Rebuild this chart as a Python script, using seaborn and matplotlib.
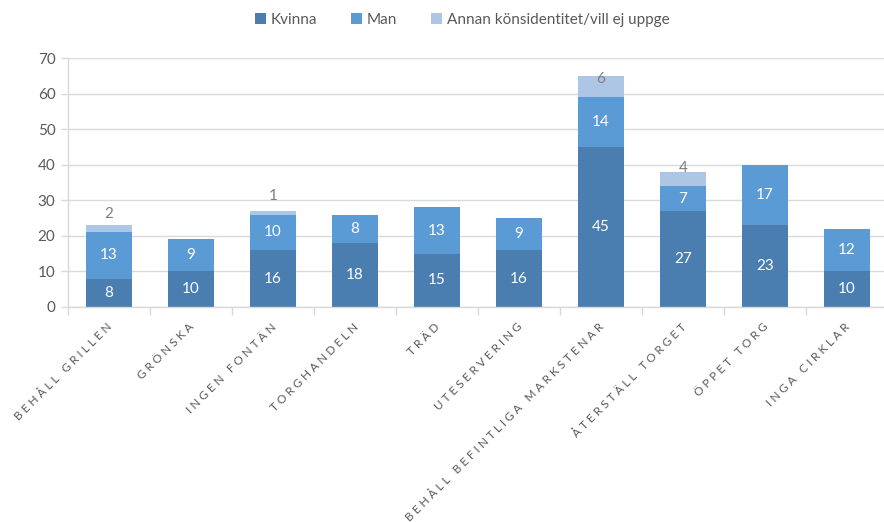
import matplotlib
matplotlib.use("Agg")
import matplotlib.pyplot as plt
from matplotlib.patches import Patch
import seaborn as sns
import numpy as np
import pandas as pd

categories = ["BEHÅLL GRILLEN", "GRÖNSKA", "INGEN FONTÄN", "TORGHANDELN", "TRÄD",
              "UTESERVERING", "BEHÅLL BEFINTLIGA MARKSTENAR", "ÅTERSTÄLL TORGET",
              "ÖPPET TORG", "INGA CIRKLAR"]
kvinna = [8, 10, 16, 18, 15, 16, 45, 27, 23, 10]
man = [13, 9, 10, 8, 13, 9, 14, 7, 17, 12]
annan = [2, 0, 1, 0, 0, 0, 6, 4, 0, 0]
series_names = ["Kvinna", "Man", "Annan könsidentitet/vill ej uppge"]
colors = ["#4A7EB0", "#5B9BD5", "#ADC6E6"]
yticks = [0, 10, 20, 30, 40, 50, 60, 70]

sns.set_theme(style="white")
plt.rcParams["font.family"] = ["Lato", "DejaVu Sans"]

fig = plt.figure(figsize=(8.84, 5.22), dpi=100)
ax = fig.add_axes([68 / 884, 1 - 307 / 522, 820 / 884, (307 - 58) / 522])

df = pd.DataFrame({"cat": categories, "Kvinna": kvinna, "Man": man, "Annan": annan})
bottoms = np.zeros(len(categories))
text_colors = ["white", "white", "#7F7F7F"]
for col, name, c, tc in zip(["Kvinna", "Man", "Annan"], series_names, colors, text_colors):
    vals = df[col].to_numpy(dtype=float)
    sns.barplot(x=np.arange(len(categories)), y=vals, bottom=bottoms, color=c, width=0.56,
                saturation=1, linewidth=0, ax=ax, native_scale=True, errorbar=None)
    for i, v in enumerate(vals):
        if v <= 0:
            continue
        if col == "Annan":
            ax.annotate(f"{int(v)}", (i, bottoms[i]), xytext=(0, 13), textcoords="offset points",
                        ha="center", va="center", color=tc, fontsize=11)
        else:
            ax.text(i, bottoms[i] + v / 2, f"{int(v)}", ha="center", va="center",
                    color=tc, fontsize=11)
    bottoms = bottoms + vals

ax.set_xlim(-0.5, len(categories) - 0.5)
ax.set_ylim(0, 70)
ax.set_yticks(yticks)
ax.set_yticklabels([str(t) for t in yticks], fontsize=11, color="#595959")
ax.yaxis.grid(True, color="#D9D9D9", linewidth=1)
ax.set_axisbelow(True)
for s in ["top", "right"]:
    ax.spines[s].set_visible(False)
for s in ["left", "bottom"]:
    ax.spines[s].set_color("#D9D9D9")
    ax.spines[s].set_linewidth(1)
ax.tick_params(axis="y", length=5, color="#D9D9D9", width=1, left=True, pad=4)
ax.set_xticks(np.arange(len(categories) + 1) - 0.5)
ax.set_xticklabels([])
ax.tick_params(axis="x", length=6, color="#D9D9D9", width=1, bottom=True)
ax.set_xlabel("")
ax.set_ylabel("")

for i, cat in enumerate(categories):
    spaced = " ".join(list(cat))
    ax.annotate(spaced, (i, 0), xytext=(1, -13), textcoords="offset points",
                rotation=45, rotation_mode="anchor", ha="right", va="center",
                fontsize=8.5, color="#595959", annotation_clip=False)

handles = [Patch(facecolor=c, edgecolor="none") for c in colors]
fig.legend(handles, series_names, loc="center", bbox_to_anchor=(462 / 884, 1 - 20 / 522),
           ncol=3, frameon=False, fontsize=11, handlelength=0.75, handleheight=0.75,
           handletextpad=0.3, columnspacing=2.2, labelcolor="#595959")

fig.savefig("out.png", dpi=100)
